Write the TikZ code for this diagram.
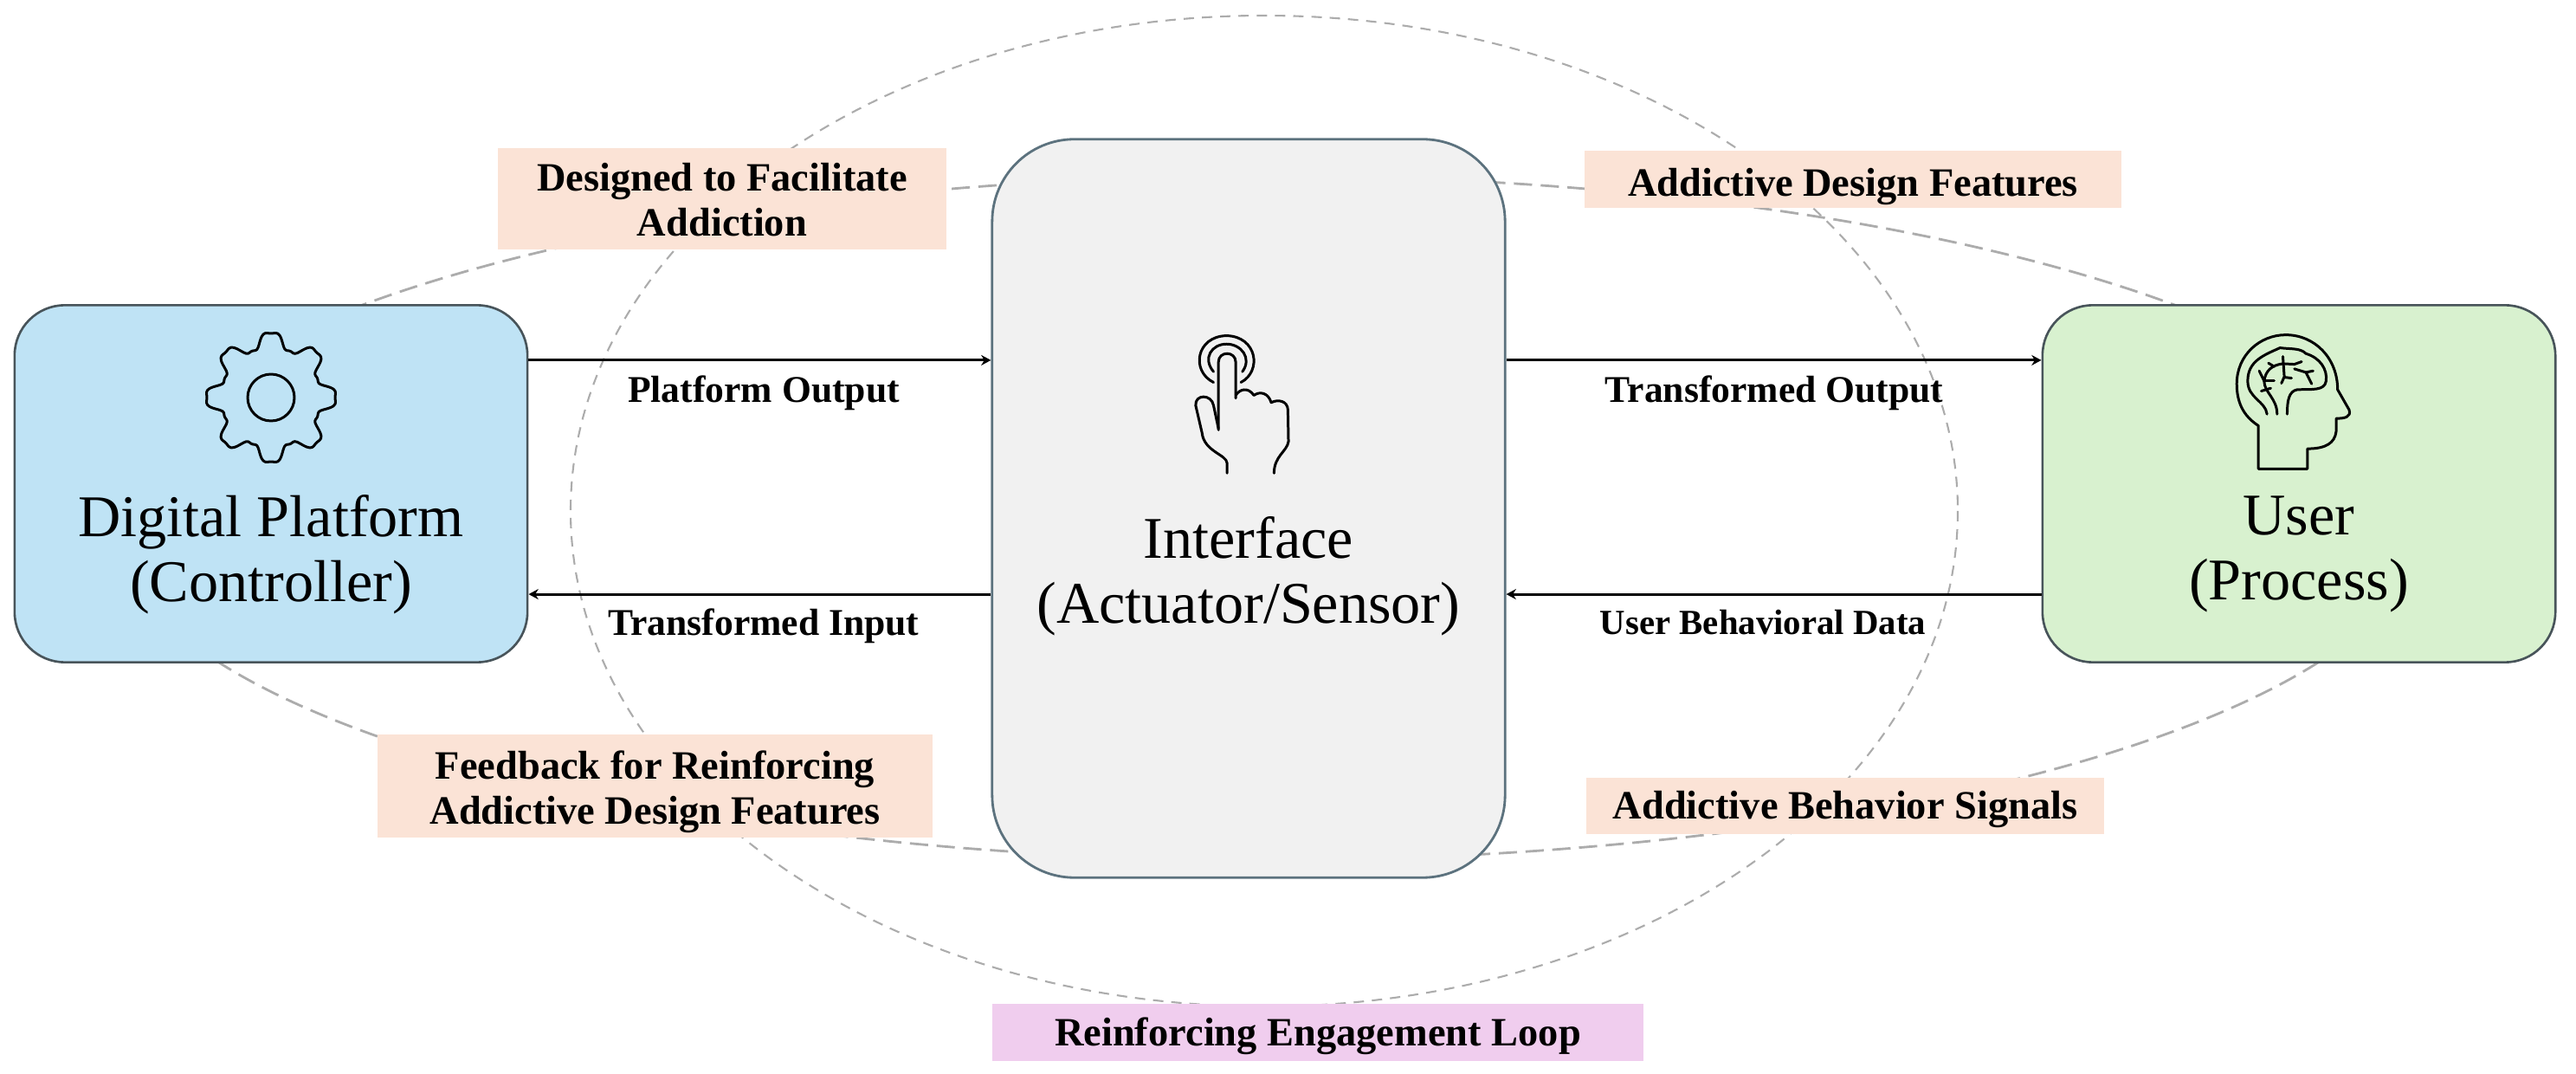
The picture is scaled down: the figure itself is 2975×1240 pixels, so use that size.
\documentclass[tikz,border=0pt]{standalone}
\usepackage{fontspec}
\setmainfont{Liberation Serif}
\usepackage{xcolor}
\usetikzlibrary{calc,arrows.meta,positioning}
\definecolor{boxBlue}{RGB}{191,227,245}
\definecolor{boxGreen}{RGB}{216,241,207}
\definecolor{boxGray}{RGB}{241,241,241}
\definecolor{tagPeach}{RGB}{251,227,214}
\definecolor{tagPurple}{RGB}{240,205,238}
\definecolor{edgeDark}{RGB}{72,84,90}
\definecolor{edgeSlate}{RGB}{92,114,126}
\definecolor{loopGray}{RGB}{172,172,172}
\tikzset{
    sidebox/.style={draw=edgeDark, line width=0.75pt, rounded corners=0.58cm, minimum width=5.92cm, minimum height=4.12cm, inner sep=0pt},
    midbox/.style={draw=edgeSlate, line width=0.8pt, rounded corners=0.95cm, fill=boxGray, minimum width=5.92cm, minimum height=8.52cm, inner sep=0pt},
    boxtext/.style={align=center, font=\fontsize{19.4}{21.3}\selectfont, inner sep=0pt},
    tagbox/.style={fill=tagPeach, inner sep=0pt},
    tagtext/.style={align=center, font=\bfseries\fontsize{13.2}{14.8}\selectfont, inner sep=0pt},
    flowtext/.style={font=\bfseries\fontsize{12.4}{14}\selectfont, inner sep=0pt},
    flow/.style={black, line width=0.85pt, -{Stealth[length=3.2pt,width=3.4pt]}},
    iconline/.style={black, line width=0.85pt, line join=round, line cap=round}
}

\begin{document}
\begin{tikzpicture}[x=0.01cm,y=-0.01cm]
    \useasboundingbox (0,0) rectangle (2975,1240);

    % dashed loops
    \draw[loopGray, line width=0.6pt, dash pattern=on 3.4pt off 2.6pt] (1460,590) ellipse (801 and 572);
    \draw[loopGray, line width=0.8pt, dash pattern=on 6pt off 2.8pt] (1465,598) ellipse (1337 and 395);

    % main blocks
    \node[sidebox, fill=boxBlue] (platform) at (313,558.5) {};
    \node[midbox] (iface) at (1442,587) {};
    \node[sidebox, fill=boxGreen] (user) at (2655,558.5) {};

    \node[boxtext] (platformtext) at (313,640) {Digital Platform\\(Controller)};
    \node[boxtext] (ifacetext) at (1442,665) {Interface\\(Actuator/Sensor)};
    \node[boxtext] (usertext) at (2655,640) {User\\(Process)};

    % arrows between blocks
    \draw[flow] ([yshift=1.425cm]platform.east) -- ([yshift=1.425cm]platform.east -| iface.west);
    \draw[flow] ([yshift=-1.275cm]platform.east -| iface.west) -- ([yshift=-1.275cm]platform.east);
    \draw[flow] ([yshift=1.425cm]user.west -| iface.east) -- ([yshift=1.425cm]user.west);
    \draw[flow] ([yshift=-1.275cm]user.west) -- ([yshift=-1.275cm]user.west -| iface.east);

    % arrow labels
    \node[flowtext] (platformout) at (882,454) {Platform Output};
    \node[flowtext] (transin) at (882,723) {Transformed Input};
    \node[flowtext] (transout) at (2049,454) {Transformed Output};
    \node[flowtext, font=\bfseries\fontsize{11.6}{14}\selectfont] (behavior) at (2036,719) {User Behavioral Data};

    % tags on the loops
    \node[tagbox, minimum width=5.18cm, minimum height=1.17cm] (designed) at (834,229.5) {};
    \node[tagbox, minimum width=6.20cm, minimum height=0.66cm] (features) at (2140,207) {};
    \node[tagbox, minimum width=6.41cm, minimum height=1.19cm] (feedback) at (756.5,907.5) {};
    \node[tagbox, minimum width=5.98cm, minimum height=0.65cm] (signals) at (2131,930.5) {};
    \node[tagbox, fill=tagPurple, minimum width=7.52cm, minimum height=0.66cm] (engage) at (1522,1192) {};

    \node[tagtext] (designedtext) at (834,231) {Designed to Facilitate\\Addiction};
    \node[tagtext] (featurestext) at (2140,216) {Addictive Design Features};
    \node[tagtext] (feedbacktext) at (756.5,914.5) {Feedback for Reinforcing\\Addictive Design Features};
    \node[tagtext] (signalstext) at (2131,934.5) {Addictive Behavior Signals};
    \node[tagtext] (engagetext) at (1522,1196) {Reinforcing Engagement Loop};

    % gear icon
    \draw[iconline] plot[smooth cycle, samples=193, domain=0:358.125, variable=\t]
        ({313+(66+10*cos(8*(\t-90))-2*cos(24*(\t-90)))*cos(\t)},{459+(66+10*cos(8*(\t-90))-2*cos(24*(\t-90)))*sin(\t)});
    \draw[iconline] (313,459) circle (27);

    % hand icon
    \begin{scope}[shift={(1300,340)},x=0.003333cm,y=-0.003333cm]
        \draw[iconline] (322,470) -- (322,235) .. controls (322,195) and (382,195) .. (382,235) -- (382,360);
        \draw[iconline] (382,350) .. controls (395,328) and (425,320) .. (445,350)
            .. controls (465,335) and (495,340) .. (505,375)
            .. controls (530,362) and (562,370) .. (563,400) -- (565,510)
            .. controls (560,545) and (515,560) .. (515,620);
        \draw[iconline] (322,465) -- (305,385) .. controls (298,345) and (240,345) .. (243,385)
            -- (265,480) .. controls (272,545) and (350,555) .. (352,585) -- (352,620);
        \draw[iconline] (305,305) .. controls (225,265) and (245,145) .. (350,143) .. controls (455,145) and (475,265) .. (400,305);
        \draw[iconline] (305,268) .. controls (265,220) and (300,172) .. (350,172) .. controls (400,172) and (440,220) .. (405,268);
    \end{scope}

    % head icon
    \begin{scope}[shift={(2500,370)},x=0.003333cm,y=-0.003333cm]
        \draw[iconline] (325,515) -- (325,365) .. controls (270,330) and (250,280) .. (250,220)
            .. controls (250,120) and (330,50) .. (420,50) .. controls (520,50) and (600,130) .. (600,240)
            -- (640,310) .. controls (648,335) and (625,340) .. (595,340) -- (595,385)
            .. controls (590,425) and (560,445) .. (495,445) -- (495,515) -- cycle;
        \draw[iconline] (355,325) .. controls (350,280) and (288,270) .. (288,210)
            .. controls (288,140) and (345,120) .. (400,95) .. controls (440,100) and (470,95) .. (490,115)
            .. controls (540,130) and (565,170) .. (560,210) .. controls (555,245) and (510,238) .. (460,240)
            .. controls (430,245) and (425,280) .. (425,325);
        \draw[iconline] (390,325) .. controls (390,270) and (345,250) .. (345,210) -- (328,175);
        \draw[iconline] (345,208) -- (380,208);
        \draw[iconline] (335,245) -- (368,235);
        \draw[iconline] (345,210) .. controls (350,175) and (370,155) .. (410,150) -- (450,152) -- (475,143);
        \draw[iconline] (410,125) -- (415,195) -- (405,218);
        \draw[iconline] (415,197) -- (440,200);
        \draw[iconline] (450,168) -- (490,180) -- (515,175);
        \draw[iconline] (490,180) -- (510,220);
        \draw[iconline] (360,148) -- (380,160);
    \end{scope}
\end{tikzpicture}
\end{document}
